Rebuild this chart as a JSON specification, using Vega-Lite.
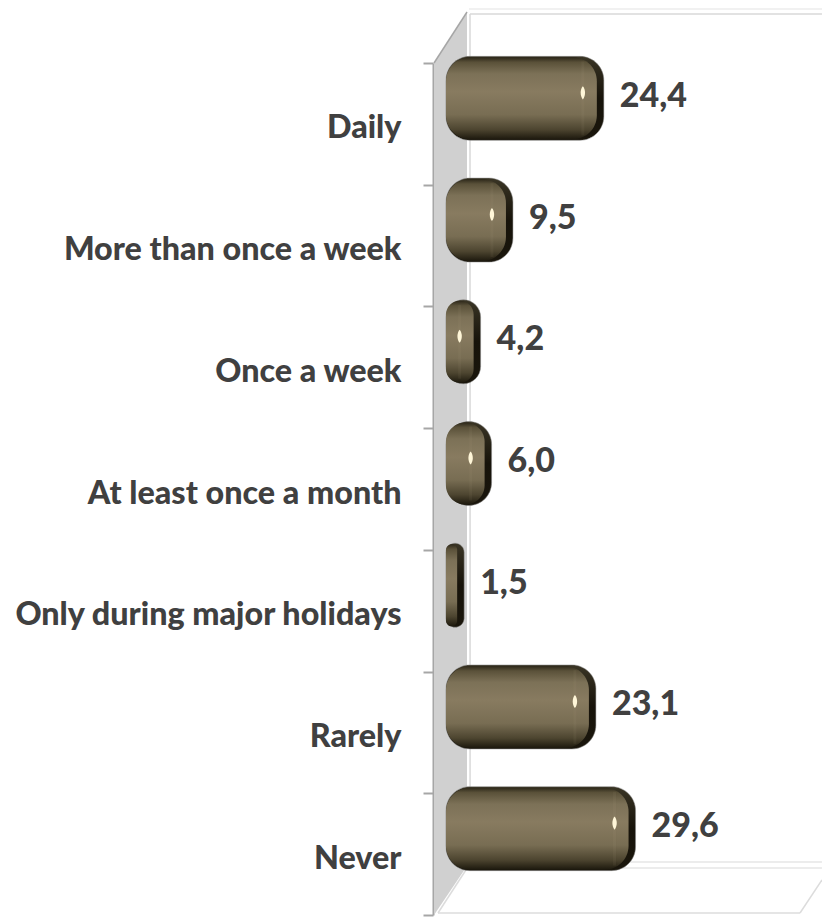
{"$schema":"https://vega.github.io/schema/vega-lite/v6.json","width":389,"height":917,"autosize":"none","padding":{"left":433,"top":0,"right":0,"bottom":0},"background":"white","config":{"view":{"stroke":null}},"datasets":{"bars":[{"category":"Daily","value":24.4,"label":"24,4"},{"category":"More than once a week","value":9.5,"label":"9,5"},{"category":"Once a week","value":4.2,"label":"4,2"},{"category":"At least once a month","value":6.0,"label":"6,0"},{"category":"Only during major holidays","value":1.5,"label":"1,5"},{"category":"Rarely","value":23.1,"label":"23,1"},{"category":"Never","value":29.6,"label":"29,6"}],"wall":[{"u":-3.44,"a":63,"b":915},{"u":1.97,"a":12,"b":866}],"edges":[{"e":"topOuter","u":2.3,"w":9,"c":"#ececec"},{"e":"topOuter","u":60.16,"w":9,"c":"#ececec"},{"e":"topInner","u":2.46,"w":14,"c":"#d9d9d9"},{"e":"topInner","u":60.16,"w":14,"c":"#d9d9d9"},{"e":"back","u":2.46,"w":14,"c":"#d9d9d9"},{"e":"back","u":2.47,"w":862,"c":"#d9d9d9"},{"e":"floorBack","u":2.46,"w":862,"c":"#e6e6e6"},{"e":"floorBack","u":60.16,"w":862,"c":"#e6e6e6"},{"e":"floorBack2","u":2.0,"w":868,"c":"#e6e6e6"},{"e":"floorBack2","u":60.16,"w":868,"c":"#e6e6e6"},{"e":"floorLeft","u":-2.79,"w":913,"c":"#dcdcdc"},{"e":"floorLeft","u":2.0,"w":868,"c":"#dcdcdc"},{"e":"floorFront","u":-2.79,"w":913,"c":"#dcdcdc"},{"e":"floorFront","u":56.56,"w":913,"c":"#dcdcdc"},{"e":"floorRight","u":56.56,"w":913,"c":"#dcdcdc"},{"e":"floorRight","u":60.16,"w":880,"c":"#dcdcdc"},{"e":"wallTop","u":-3.44,"w":63,"c":"#a6a6a6"},{"e":"wallTop","u":1.97,"w":12,"c":"#a6a6a6"}]},"layer":[{"data":{"name":"wall"},"mark":{"type":"area","color":"#d0d0d0","orient":"vertical"},"encoding":{"x":{"field":"u","type":"quantitative","scale":{"domain":[-3.607,60.164],"zero":false,"nice":false},"axis":null},"y":{"field":"a","type":"quantitative","scale":{"domain":[0,917],"range":[0,917],"nice":false,"zero":false},"axis":null},"y2":{"field":"b"}}},{"data":{"name":"edges"},"mark":{"type":"line","strokeWidth":1.5,"clip":false},"encoding":{"x":{"field":"u","type":"quantitative","axis":null},"y":{"field":"w","type":"quantitative","scale":{"domain":[0,917],"range":[0,917],"nice":false,"zero":false},"axis":null},"detail":{"field":"e"},"order":{"field":"u"},"color":{"field":"c","type":"nominal","scale":null,"legend":null}}},{"data":{"name":"bars"},"mark":{"type":"bar","height":84,"yOffset":-25.5,"cornerRadius":24,"fill":{"gradient":"linear","x1":0,"y1":0,"x2":0,"y2":1,"stops":[{"offset":0,"color":"#3a3525"},{"offset":0.5,"color":"#17130a"},{"offset":1,"color":"#1a160c"}]},"stroke":"#8f8f8f","strokeWidth":0.5},"encoding":{"y":{"field":"category","type":"nominal","sort":null,"scale":{"type":"band","range":[63,915],"paddingInner":0,"paddingOuter":0},"axis":{"title":null,"domainColor":"#a6a6a6","domainWidth":2,"tickColor":"#a6a6a6","tickWidth":2,"tickSize":10,"tickBand":"extent","labelPadding":22,"labelOffset":4,"labelFont":"Lato","labelFontWeight":900,"labelFontSize":32.3,"labelColor":"#404040","labelLimit":500,"labelOverlap":false,"labelAlign":"right","grid":false}},"x":{"field":"value","type":"quantitative","axis":null,"stack":null},"x2":{"datum":-1.48}}},{"data":{"name":"bars"},"mark":{"type":"bar","height":82,"yOffset":-25.5,"xOffset":-7,"cornerRadius":24,"fill":{"gradient":"linear","x1":0,"y1":0,"x2":0,"y2":1,"stops":[{"offset":0,"color":"#2c2719"},{"offset":0.06,"color":"#5a5139"},{"offset":0.2,"color":"#7c7157"},{"offset":0.42,"color":"#887b60"},{"offset":0.7,"color":"#786d53"},{"offset":0.88,"color":"#4d4530"},{"offset":1,"color":"#1d190e"}]}},"encoding":{"y":{"field":"category","type":"nominal","sort":null,"scale":{"type":"band","range":[63,915],"paddingInner":0,"paddingOuter":0},"axis":null},"x":{"field":"value","type":"quantitative","axis":null,"stack":null},"x2":{"datum":-1.48}}},{"data":{"name":"bars"},"transform":[{"filter":"datum.value > 3"}],"mark":{"type":"tick","size":74,"thickness":3,"yOffset":-25.5,"xOffset":-21,"color":"#b5aa8e","opacity":0.07},"encoding":{"y":{"field":"category","type":"nominal","scale":{"type":"band","domain":["Daily","More than once a week","Once a week","At least once a month","Only during major holidays","Rarely","Never"],"range":[63,915],"paddingInner":0,"paddingOuter":0},"axis":null},"x":{"field":"value","type":"quantitative","axis":null}}},{"data":{"name":"bars"},"transform":[{"filter":"datum.value > 3"}],"mark":{"type":"point","shape":"M0,-1 C0.45,-0.5 0.45,0.5 0,1 C-0.45,0.5 -0.45,-0.5 0,-1 Z","size":170,"filled":true,"opacity":1,"yOffset":-31,"xOffset":-21,"color":"#fff6d8"},"encoding":{"y":{"field":"category","type":"nominal","scale":{"type":"band","domain":["Daily","More than once a week","Once a week","At least once a month","Only during major holidays","Rarely","Never"],"range":[63,915],"paddingInner":0,"paddingOuter":0},"axis":null},"x":{"field":"value","type":"quantitative","axis":null}}},{"data":{"name":"bars"},"mark":{"type":"text","align":"left","baseline":"middle","dx":16,"dy":-27,"font":"Lato","fontWeight":900,"fontSize":34,"color":"#404040"},"encoding":{"y":{"field":"category","type":"nominal","sort":null,"scale":{"type":"band","range":[63,915],"paddingInner":0,"paddingOuter":0},"axis":null},"x":{"field":"value","type":"quantitative","axis":null},"text":{"field":"label","type":"nominal"}}}],"resolve":{"scale":{"y":"independent"}}}
